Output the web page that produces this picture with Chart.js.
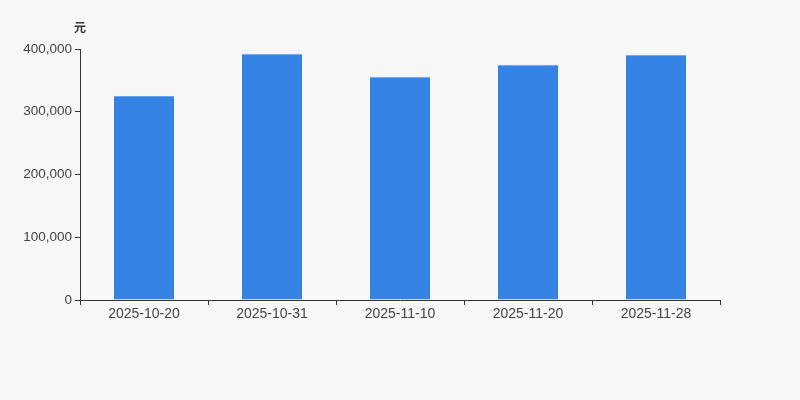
<!DOCTYPE html>
<html>
<head>
<meta charset="utf-8">
<script src="https://cdn.jsdelivr.net/npm/chart.js@4/dist/chart.umd.min.js"></script>
<style>
  html, body { margin: 0; padding: 0; background: #f7f7f7; }
  #wrap { width: 800px; height: 400px; }
</style>
</head>
<body>
<div id="wrap"><canvas id="barChart" width="800" height="400"></canvas></div>
<script>
// Chart data
const dates = ['2025-10-20', '2025-10-31', '2025-11-10', '2025-11-20', '2025-11-28'];
const amounts = [325000, 392500, 355800, 375000, 391000];
const unitLabel = '元';

// draws the unit above the y axis
const unitPlugin = {
  id: 'unitLabel',
  afterDraw(chart) {
    const ctx = chart.ctx;
    const yScale = chart.scales.y;
    ctx.save();
    ctx.font = 'bold 12px "Noto Sans CJK SC", sans-serif';
    ctx.fillStyle = '#333';
    ctx.textAlign = 'center';
    ctx.textBaseline = 'middle';
    ctx.fillText(unitLabel, yScale.right, 27);
    ctx.restore();
  }
};

const ctx = document.getElementById('barChart').getContext('2d');
const chart = new Chart(ctx, {
  type: 'bar',
  data: {
    labels: dates,
    datasets: [{
      data: amounts,
      backgroundColor: '#3482e3',
      borderColor: '#6aa5ec',
      borderWidth: { top: 1, left: 0, right: 0, bottom: 0 },
      barPercentage: 0.47,
      categoryPercentage: 1
    }]
  },
  options: {
    responsive: false,
    animation: false,
    layout: { padding: { top: 49, right: 80, left: 0, bottom: 0 } },
    plugins: {
      legend: { display: false },
      tooltip: { enabled: false }
    },
    scales: {
      x: {
        afterFit(scale) { scale.height = 100; },
        border: { color: '#333', width: 1 },
        grid: { drawOnChartArea: false, drawTicks: true, tickLength: 5, color: '#333', offset: true },
        ticks: {
          color: '#444',
          padding: 1,
          font: { family: 'Arial, "Liberation Sans", sans-serif', size: 14 }
        }
      },
      y: {
        min: 0,
        max: 400000,
        afterFit(scale) { scale.width = 80; },
        border: { color: '#333', width: 1 },
        grid: { drawOnChartArea: false, drawTicks: true, tickLength: 5, color: '#333' },
        ticks: {
          stepSize: 100000,
          color: '#444',
          padding: 3,
          font: { family: 'Arial, "Liberation Sans", sans-serif', size: 13.5 },
          callback: v => v.toLocaleString('en-US')
        }
      }
    }
  },
  plugins: [unitPlugin]
});
</script>
</body>
</html>
